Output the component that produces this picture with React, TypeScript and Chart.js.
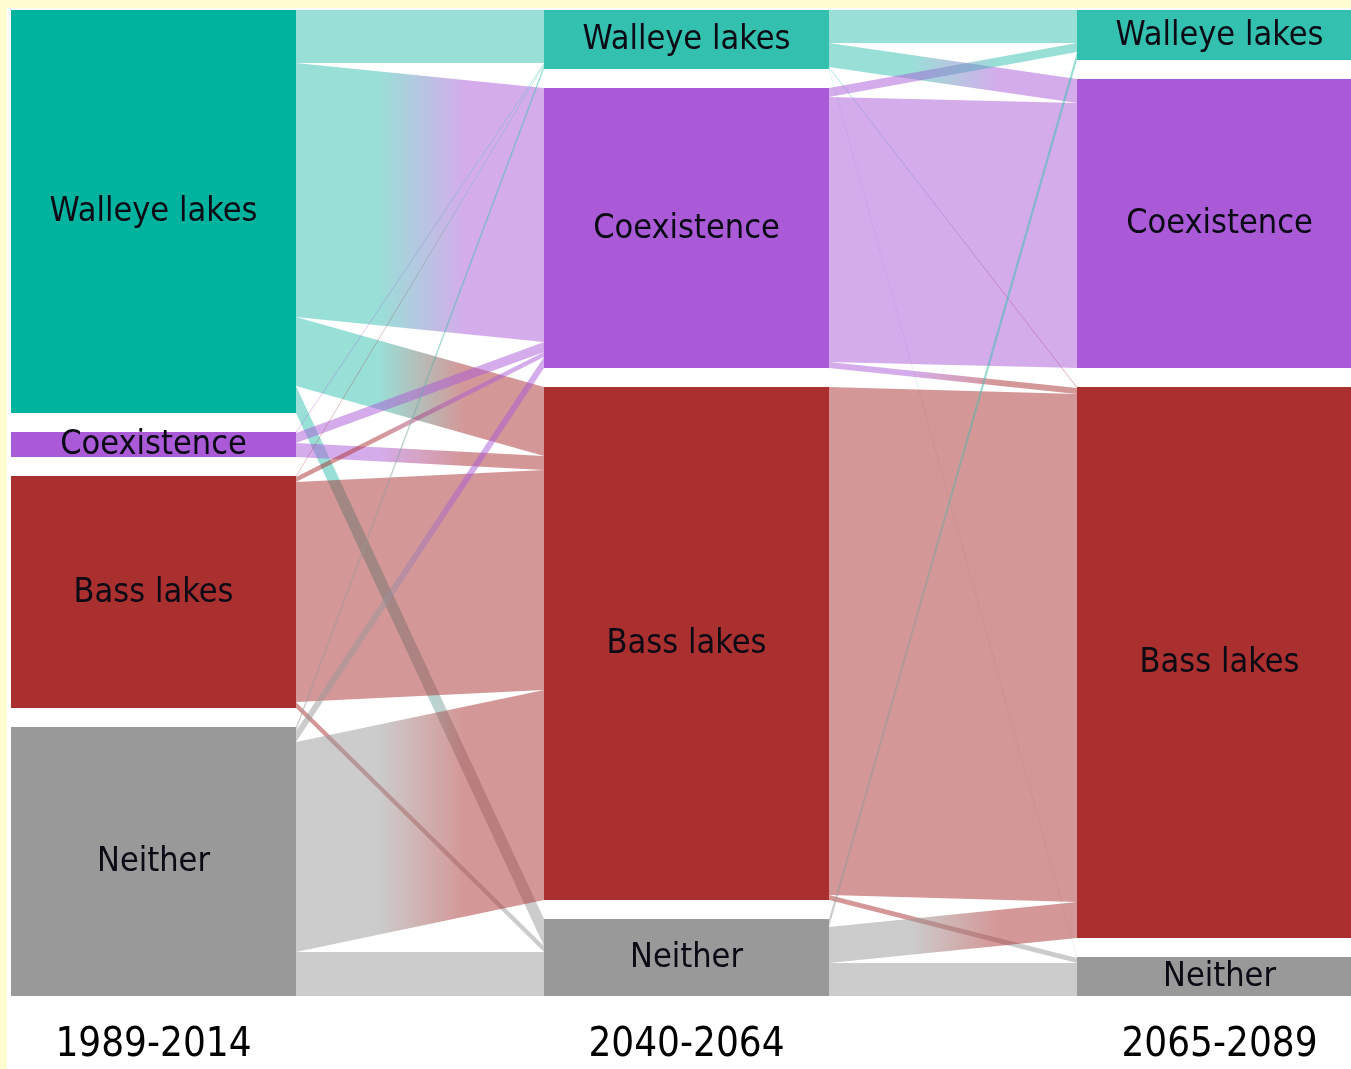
import React, { useEffect, useRef } from 'react';
import { Chart, registerables } from 'chart.js';

Chart.register(...registerables);

// ---- data ----
const PERIODS = ['1989-2014', '2040-2064', '2065-2089'];
const STATES = ['Walleye lakes', 'Coexistence', 'Bass lakes', 'Neither'];
const STATE_COLORS = ['#33c0af', '#ab5ad7', '#aa3030', '#999999'];
const HOVER_WALLEYE = '#00b39f';

// [from state, to state, number of lakes]
const FLOWS_P1_P2: [number, number, number][] = [
  [0, 0, 53], [0, 1, 254], [0, 2, 69], [0, 3, 27],
  [1, 0, 1], [1, 1, 10], [1, 2, 14],
  [2, 0, 1], [2, 1, 5], [2, 2, 220], [2, 3, 6],
  [3, 0, 4], [3, 1, 11], [3, 2, 210], [3, 3, 44],
];
const FLOWS_P2_P3: [number, number, number][] = [
  [0, 0, 33], [0, 1, 24], [0, 2, 1], [0, 3, 1],
  [1, 0, 9], [1, 1, 265], [1, 2, 6],
  [2, 2, 508], [2, 3, 5],
  [3, 0, 8], [3, 2, 36], [3, 3, 33],
];

// ---- layout constants ----
const GAP = 19;
const FONT = '"DejaVu Sans Condensed", "DejaVu Sans", sans-serif';

const TRANSITIONS = [FLOWS_P1_P2, FLOWS_P2_P3];

function nodeValues(): number[][] {
  const cols: number[][] = [];
  for (let c = 0; c < PERIODS.length; c++) {
    const vals = STATES.map(() => 0);
    for (let s = 0; s < STATES.length; s++) {
      let inn = 0, out = 0;
      if (c > 0) TRANSITIONS[c - 1].forEach(([f, t, v]) => { if (t === s) inn += v; });
      if (c < TRANSITIONS.length) TRANSITIONS[c].forEach(([f, t, v]) => { if (f === s) out += v; });
      vals[s] = Math.max(inn, out);
    }
    cols.push(vals);
  }
  return cols;
}

const NODE_VALS = nodeValues();
const NODE_START: number[][] = NODE_VALS.map((vals) => {
  let acc = 0;
  return vals.map((v) => { const s = acc; acc += v + GAP; return s; });
});
const TOTAL = Math.max(...NODE_VALS.map((vals) => vals.reduce((a, b) => a + b, 0) + GAP * (vals.length - 1)));

function rgba(hex: string, a: number) {
  const n = parseInt(hex.slice(1), 16);
  return `rgba(${(n >> 16) & 255},${(n >> 8) & 255},${n & 255},${a})`;
}

const linkPlugin = {
  id: 'sankeyLinks',
  beforeDatasetsDraw(chart: any) {
    const { ctx, scales } = chart;
    const y = scales.y;
    const area = chart.chartArea;
    ctx.save();
    ctx.beginPath();
    ctx.rect(area.left, area.top, area.right - area.left, area.bottom - area.top);
    ctx.clip();
    TRANSITIONS.forEach((flows, c) => {
      const srcOff = STATES.map(() => 0);
      const tgtOff = STATES.map(() => 0);
      const srcSorted = [...flows].sort((a, b) => a[0] - b[0] || a[1] - b[1]);
      const srcPos = new Map<any, number>();
      srcSorted.forEach((f) => { srcPos.set(f, NODE_START[c][f[0]] + srcOff[f[0]]); srcOff[f[0]] += f[2]; });
      const tgtSorted = [...flows].sort((a, b) => a[1] - b[1] || a[0] - b[0]);
      const tgtPos = new Map<any, number>();
      tgtSorted.forEach((f) => { tgtPos.set(f, NODE_START[c + 1][f[1]] + tgtOff[f[1]]); tgtOff[f[1]] += f[2]; });
      flows.forEach((f) => {
        const [from, to, v] = f;
        const sb = chart.getDatasetMeta(from).data[c];
        const tb = chart.getDatasetMeta(to).data[c + 1];
        const x0 = sb.x + sb.width / 2;
        const x1 = tb.x - tb.width / 2;
        const s0 = y.getPixelForValue(srcPos.get(f)!);
        const s1 = y.getPixelForValue(srcPos.get(f)! + v);
        const t0 = y.getPixelForValue(tgtPos.get(f)!);
        const t1 = y.getPixelForValue(tgtPos.get(f)! + v);
        const g = ctx.createLinearGradient(x0, 0, x1, 0);
        g.addColorStop(0.33, rgba(STATE_COLORS[from], 0.5));
        g.addColorStop(0.68, rgba(STATE_COLORS[to], 0.5));
        ctx.fillStyle = g;
        ctx.beginPath();
        ctx.moveTo(x0, s0);
        ctx.lineTo(x1, t0);
        ctx.lineTo(x1, t1);
        ctx.lineTo(x0, s1);
        ctx.closePath();
        ctx.fill();
      });
    });
    ctx.restore();
  },
  afterDatasetsDraw(chart: any) {
    const { ctx, scales } = chart;
    const y = scales.y;
    ctx.save();
    ctx.font = `34px ${FONT}`;
    ctx.fillStyle = '#0a0a14';
    ctx.textAlign = 'center';
    ctx.textBaseline = 'middle';
    STATES.forEach((name, s) => {
      const meta = chart.getDatasetMeta(s);
      PERIODS.forEach((_, c) => {
        const bar = meta.data[c];
        const yc = y.getPixelForValue(NODE_START[c][s] + NODE_VALS[c][s] / 2);
        ctx.fillText(name, bar.x, yc + 1);
      });
    });
    ctx.restore();
  },
};

export default function App() {
  const ref = useRef<HTMLCanvasElement>(null);
  useEffect(() => {
    const datasets = STATES.map((name, s) => ({
      label: name,
      data: PERIODS.map((_, c) => ({ x: c, y: [NODE_START[c][s], NODE_START[c][s] + NODE_VALS[c][s]] })),
      backgroundColor: PERIODS.map((_, c) => (s === 0 && c === 0 ? HOVER_WALLEYE : STATE_COLORS[s])),
      borderWidth: 0,
      grouped: false,
      barPercentage: 1,
      categoryPercentage: 285 / 533,
    }));
    const chart = new Chart(ref.current!, {
      type: 'bar',
      data: { datasets: datasets as any },
      options: {
        animation: false,
        responsive: false,
        events: [],
        layout: { padding: { top: 2, left: 4, right: 0, bottom: 0 } },
        plugins: { legend: { display: false }, tooltip: { enabled: false } },
        scales: {
          x: {
            type: 'linear',
            offset: false,
            min: -142.5 / 533,
            max: 2 + 131.5 / 533,
            grid: { display: false, drawTicks: false },
            border: { display: false },
            afterBuildTicks: (scale: any) => { scale.ticks = PERIODS.map((_, i) => ({ value: i })); },
            ticks: {
              callback: (v: any) => PERIODS[v] ?? '',
              font: { family: FONT, size: 40 },
              color: '#000',
              padding: 26,
              maxRotation: 0,
              autoSkip: false,
            },
          },
          y: { type: 'linear', reverse: true, min: 0, max: TOTAL, display: false },
        },
      } as any,
      plugins: [linkPlugin],
    });
    return () => chart.destroy();
  }, []);
  return (
    <div style={{ position: 'fixed', inset: 0, background: '#fffdd0' }}>
      <div style={{ position: 'absolute', left: 7, top: 8, width: 1344, height: 1061, background: '#fff', overflow: 'hidden' }}>
        <canvas ref={ref} width={1344} height={1088} style={{ display: 'block' }} />
      </div>
    </div>
  );
}
